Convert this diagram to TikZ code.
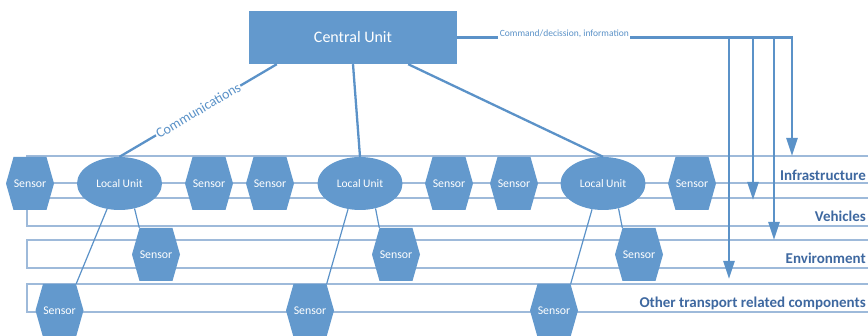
\documentclass[tikz,border=0pt]{standalone}
\usepackage{fontspec}
\setmainfont{Carlito}
\usetikzlibrary{shapes.geometric,arrows.meta}
\definecolor{cufill}{RGB}{99,153,205}
\definecolor{bandc}{RGB}{158,186,218}
\definecolor{linkc}{RGB}{91,146,200}
\definecolor{labc}{RGB}{62,104,160}
\begin{document}
\begin{tikzpicture}[x=1pt,y=-1pt,
  band/.style={draw=bandc, line width=1.8pt},
  cubox/.style={rectangle, fill=cufill, minimum width=208pt, minimum height=53pt, inner sep=0pt,
    text=white, font=\fontsize{16}{19}\selectfont},
  lunit/.style={ellipse, fill=cufill, minimum width=85pt, minimum height=53pt, inner sep=0pt,
    text=white, font=\fontsize{11.5}{14}\selectfont},
  sensor/.style={rectangle, minimum width=48pt, minimum height=53pt, inner sep=0pt,
    text=white, font=\fontsize{11.8}{14}\selectfont,
    path picture={\fill[cufill] (path picture bounding box.west)
      -- ([xshift=7.5pt]path picture bounding box.north west)
      -- ([xshift=-7.5pt]path picture bounding box.north east)
      -- (path picture bounding box.east)
      -- ([xshift=-7.5pt]path picture bounding box.south east)
      -- ([xshift=7.5pt]path picture bounding box.south west) -- cycle;}},
  culink/.style={draw=linkc, line width=2.3pt},
  slink/.style={draw=linkc, line width=1.2pt},
  cmd/.style={draw=linkc, line width=2.5pt},
  cmdarrow/.style={cmd, -{Triangle[width=11pt,length=18pt]}},
  bandlab/.style={font=\fontsize{15}{18}\selectfont\bfseries, text=labc, anchor=base east, inner sep=0pt},
  commlab/.style={font=\fontsize{14}{16}\selectfont, text=linkc, fill=white, inner sep=1pt, sloped},
  cmdlab/.style={font=\fontsize{9.5}{11}\selectfont, text=linkc, fill=white, inner sep=1.5pt}
]
\useasboundingbox (0,0) rectangle (868,336);
\clip (0,0) rectangle (868,336);

% bands
\draw[band] (27,156) rectangle (885,183);
\draw[band] (27,198) rectangle (885,226);
\draw[band] (27,240) rectangle (885,268);
\draw[band] (27,284) rectangle (885,312);

% band labels
\node[bandlab] (lab1) at (866,181) {Infrastructure};
\node[bandlab] (lab2) at (866,222) {Vehicles};
\node[bandlab] (lab3) at (866,264) {Environment};
\node[bandlab] (lab4) at (866,308) {Other transport related components};

% central unit
\node[cubox] (cu) at (353,37.5) {Central Unit};

% local units
\node[lunit] (lu1) at (119.5,183.5) {Local Unit};
\node[lunit] (lu2) at (360,183.5) {Local Unit};
\node[lunit] (lu3) at (603,183.5) {Local Unit};

% row 1 sensors
\node[sensor] (s11) at (30,183.5) {Sensor};
\node[sensor] (s12) at (209,183.5) {Sensor};
\node[sensor] (s13) at (270,183.5) {Sensor};
\node[sensor] (s14) at (449,183.5) {Sensor};
\node[sensor] (s15) at (514,183.5) {Sensor};
\node[sensor] (s16) at (692,183.5) {Sensor};

% row 2 sensors
\node[sensor] (s21) at (156,254.5) {Sensor};
\node[sensor] (s22) at (396,254.5) {Sensor};
\node[sensor] (s23) at (639,254.5) {Sensor};

% row 3 sensors
\node[sensor] (s31) at (59.5,310.5) {Sensor};
\node[sensor] (s32) at (310,310.5) {Sensor};
\node[sensor] (s33) at (554,310.5) {Sensor};

% central unit links
\draw[culink] ([xshift=28pt]cu.south west) -- node[commlab, pos=0.5] {Communications} (lu1.north);
\draw[culink] (cu.south) -- (lu2.north);
\draw[culink] ([xshift=-49pt]cu.south east) -- (lu3.north);

% local unit links
\draw[slink] (lu1.-59) -- ([xshift=7.5pt]s21.north west);
\draw[slink] (lu1.-116) -- ([xshift=-7.5pt]s31.north east);
\draw[slink] (lu2.-58) -- ([xshift=7.5pt]s22.north west);
\draw[slink] (lu2.-115) -- ([xshift=-7.5pt]s32.north east);
\draw[slink] (lu3.-58) -- ([xshift=7.5pt]s23.north west);
\draw[slink] (lu3.-113) -- ([xshift=-7.5pt]s33.north east);

% command arrows
\coordinate (c1) at (792,37.5);
\coordinate (t1) at (792,156);
\coordinate (c2) at (729,37.5);
\coordinate (t2) at (729,279);
\coordinate (c3) at (753,38);
\coordinate (t3) at (753,200);
\coordinate (c4) at (774,38);
\coordinate (t4) at (774,240);
\draw[cmdarrow] (cu.east) -- node[cmdlab, pos=0.32, yshift=4pt] {Command/decission, information} (c1) -- (t1);
\draw[cmdarrow] (c2) -- (t2);
\draw[cmdarrow] (c3) -- (t3);
\draw[cmdarrow] (c4) -- (t4);
\end{tikzpicture}
\end{document}
